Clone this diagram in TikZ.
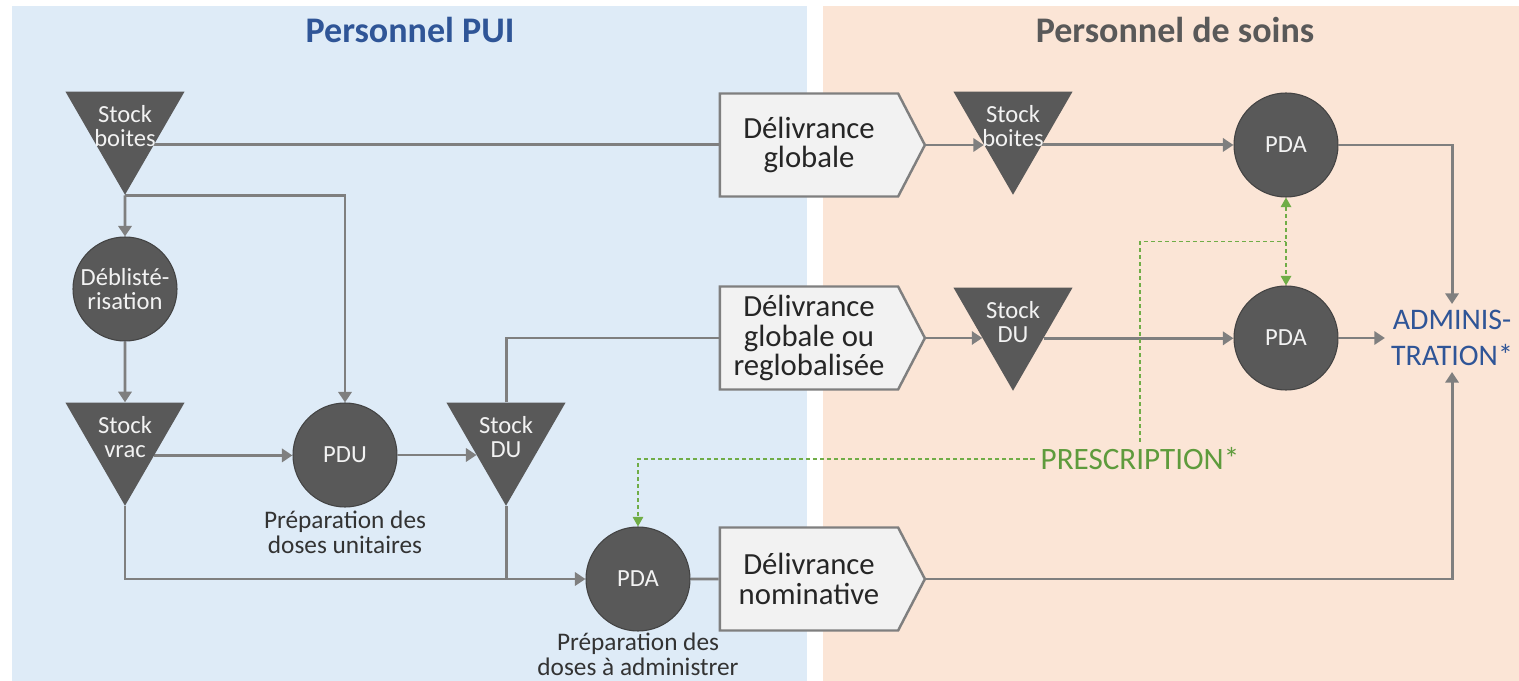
\documentclass[tikz,border=0pt]{standalone}
\usepackage{fontspec}
\setmainfont{Carlito}
\usetikzlibrary{shapes.geometric,shapes.symbols,arrows.meta,positioning,calc}
\definecolor{puiblue}{HTML}{DEEBF7}
\definecolor{soinpeach}{HTML}{FBE5D6}
\definecolor{titleblue}{HTML}{2F5597}
\definecolor{titlegray}{HTML}{595959}
\definecolor{nodegray}{HTML}{595959}
\definecolor{wiregray}{HTML}{7F7F7F}
\definecolor{boxfill}{HTML}{F2F2F2}
\definecolor{prescgreen}{HTML}{70AD47}
\definecolor{prescdark}{HTML}{5E9B3C}
\pgfdeclarelayer{back}
\pgfdeclarelayer{wires}
\pgfsetlayers{back,wires,main}

\begin{document}
\begin{tikzpicture}[
        x=0.2mm, y=-0.2mm,
        stock/.style={regular polygon, regular polygon sides=3, shape border rotate=180, minimum size=27.5mm, inner sep=-4pt, fill=nodegray, text=white!95!black, align=center, font=\fontsize{14}{14}\selectfont},
        process/.style={circle, minimum size=20.8mm, inner sep=0pt, fill=nodegray, draw=nodegray!75!black, line width=0.6pt, text=white!95!black, align=center, font=\fontsize{14}{13.6}\selectfont},
        delivery/.style={signal, signal to=east, signal pointer angle=125, minimum width=41mm, minimum height=20.6mm, fill=boxfill, draw=wiregray, line width=1.4pt, align=center, text=black!85, font=\fontsize{17.5}{17}\selectfont},
        captiontext/.style={align=center, text=black!80, inner sep=0pt, font=\fontsize{14.4}{14.2}\selectfont},
        paneltitle/.style={font=\fontsize{20.5}{22}\selectfont\bfseries},
        flow/.style={draw=wiregray, line width=1.7pt},
        flowarrow/.style={flow, -{Triangle[length=6pt, width=7.5pt]}},
        presc/.style={draw=prescgreen, line width=0.9pt, dash pattern=on 2.3pt off 1.7pt},
        prescarrow/.style={-{Triangle[length=5.5pt, width=6pt]}}
    ]
        \useasboundingbox (0,0) rectangle (1519,681);

        % Panels
        \begin{pgfonlayer}{back}
            \fill[white] (0,0) rectangle (1519,681);
            \fill[puiblue] (12,6) rectangle (807,681);
            \fill[soinpeach] (823,6) rectangle (1519,681);
        \end{pgfonlayer}
        \node[paneltitle, text=titleblue] (tpui) at (410,30) {Personnel PUI};
        \node[paneltitle, text=titlegray] (tsoins) at (1175,30) {Personnel de soins};

        % Personnel PUI
        \node[stock] (sbL) at (125,126) {Stock\\boites};
        \node[process] (deb) at (125,289) {Déblisté-\\risation};
        \node[stock] (svr) at (125,437) {Stock\\vrac};
        \node[process] (pdu) at (345,455) {PDU};
        \node[captiontext, below=2pt of pdu] (pducap) {Préparation des\\doses unitaires};
        \node[stock] (sdL) at (506,437) {Stock\\DU};
        \node[process] (pdaB) at (638,579) {PDA};
        \node[captiontext, below=0.5pt of pdaB] (pdacap) {Préparation des\\doses à administrer};

        % Delivrances
        \node[delivery] (dg) at (809,145) {Délivrance\\globale};
        \node[delivery] (dgr) at (809,338) {Délivrance\\globale ou\\reglobalisée};
        \node[delivery] (dn) at (809,579) {Délivrance\\nominative};

        % Personnel de soins
        \node[stock] (sbR) at (1013,126) {Stock\\boites};
        \node[stock] (sdR) at (1013,322) {Stock\\DU};
        \node[process] (pdaT) at (1286,145) {PDA};
        \node[process] (pdaM) at (1286,338) {PDA};
        \node[text=titleblue, align=center, font=\fontsize{17}{20.5}\selectfont] (adm) at (1452,338) {ADMINIS-\\TRATION*};
        \node[text=prescdark, font=\fontsize{17.7}{20}\selectfont] (presc) at (1140,459) {PRESCRIPTION*};

        % Flux
        \begin{pgfonlayer}{wires}
            \draw[flow] (sbL.327) -- (sbL.327 -| dg.west);
            \draw[flowarrow] (dg.east) -- (dg.east -| sbR.213);
            \draw[flowarrow] (sbR.327) -- (sbR.327 -| pdaT.west);
            \draw[flowarrow] (sbL.south) -- (deb);
            \draw[flowarrow] (sbL.south) -| (pdu);
            \draw[flowarrow] (deb) -- (svr.north);
            \draw[flowarrow] (svr.328) -- (svr.328 -| pdu.west);
            \draw[flowarrow] (pdu.east) -- (pdu.east -| sdL.212);
            \draw[flow] (sdL.north) |- (dgr.west);
            \draw[flowarrow] (dgr.east) -- (dgr.east -| sdR.208);
            \draw[flowarrow] (sdR.332) -- (sdR.332 -| pdaM.west);
            \draw[flowarrow] (svr.south) |- (pdaB.west);
            \draw[flow] (sdL.south) -- (sdL.south |- pdaB.west);
            \draw[flow] (pdaB) -- (dn);
            \draw[flowarrow] (pdaT.east) -| (adm.north);
            \draw[flowarrow] (pdaM) -- (adm);
            \draw[flowarrow] (dn.east) -| (adm.south);

            % Prescription
            \coordinate (pj) at ($(pdaT.south)!0.5!(pdaM.north)$);
            \draw[presc] (presc.north) |- (pj);
            \draw[presc, prescarrow] (presc.west) -| (pdaB.north);
            \draw[presc, {Triangle[length=5.5pt, width=6pt]}-{Triangle[length=5.5pt, width=6pt]}] (pdaT.south) -- (pdaM.north);
        \end{pgfonlayer}
    \end{tikzpicture}
\end{document}
